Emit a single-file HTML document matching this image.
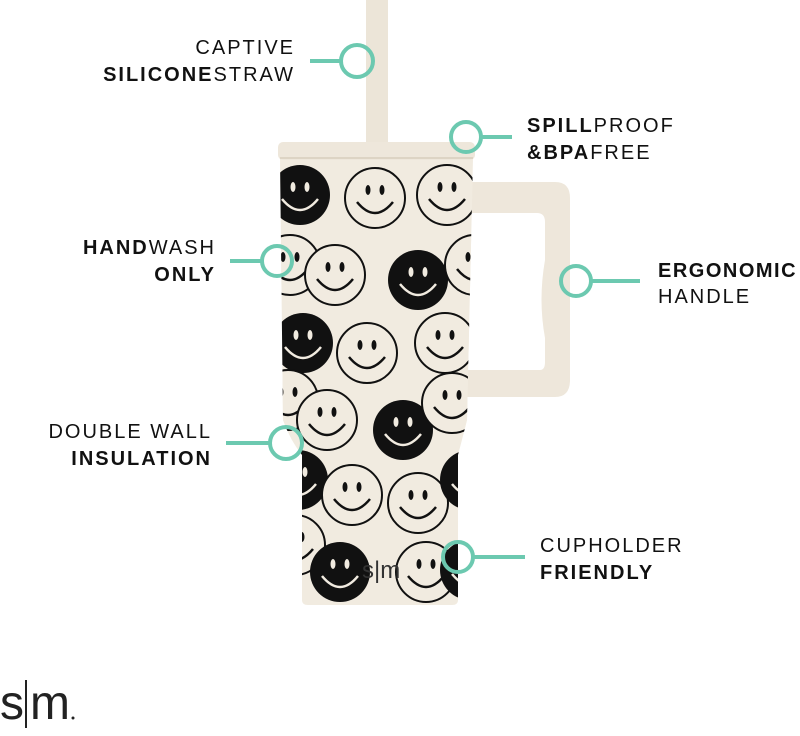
<!DOCTYPE html>
<html><head><style>
body{margin:0;width:800px;height:731px;background:#fff;overflow:hidden;font-family:"Liberation Sans",sans-serif;}
svg text{font-family:"Liberation Sans",sans-serif;font-size:20px;letter-spacing:2px;fill:#111;}
.b{font-weight:bold;}
</style></head><body>
<svg width="800" height="731" viewBox="0 0 800 731">
<defs>
<g id="sw"><circle r="30" fill="#f1ebe0" stroke="#111" stroke-width="2"/><ellipse cx="-7" cy="-8" rx="2.5" ry="5" fill="#111"/><ellipse cx="7" cy="-8" rx="2.5" ry="5" fill="#111"/><path d="M-18 4 Q0 26 18 4" fill="none" stroke="#111" stroke-width="2.5"/></g>
<g id="sb"><circle r="30" fill="#111"/><ellipse cx="-7" cy="-8" rx="2.5" ry="5" fill="#f1ebe0"/><ellipse cx="7" cy="-8" rx="2.5" ry="5" fill="#f1ebe0"/><path d="M-18 4 Q0 26 18 4" fill="none" stroke="#f1ebe0" stroke-width="2.5"/></g>
<clipPath id="body"><path d="M280 158 L473 158 L467 420 Q462 440 458 455 L458 600 Q458 605 452 605 L308 605 Q302 605 302 600 L302 455 Q290 440 283 420 Z"/></clipPath>
</defs>
<rect x="366" y="0" width="22" height="145" fill="#ece5d8"/>
<path d="M465 182 L555 182 Q570 182 570 198 L570 380 Q570 397 555 397 L465 397 L465 370 L540 370 Q545 370 545 362 L545 338 Q538 300 545 260 L545 222 Q545 213 537 213 L465 213 Z" fill="#eee7db"/>
<path d="M280 158 L473 158 L467 420 Q462 440 458 455 L458 600 Q458 605 452 605 L308 605 Q302 605 302 600 L302 455 Q290 440 283 420 Z" fill="#f1ebe0"/>
<g clip-path="url(#body)">
<use href="#sb" x="300" y="195"/><use href="#sw" x="375" y="198"/><use href="#sw" x="447" y="195"/>
<use href="#sw" x="290" y="265"/><use href="#sw" x="335" y="275"/><use href="#sb" x="418" y="280"/><use href="#sw" x="475" y="265"/>
<use href="#sb" x="303" y="343"/><use href="#sw" x="367" y="353"/><use href="#sw" x="445" y="343"/>
<use href="#sw" x="288" y="400"/><use href="#sw" x="327" y="420"/><use href="#sb" x="403" y="430"/><use href="#sw" x="452" y="403"/>
<use href="#sb" x="298" y="480"/><use href="#sw" x="352" y="495"/><use href="#sw" x="418" y="503"/><use href="#sb" x="470" y="480"/>
<use href="#sw" x="295" y="545"/><use href="#sb" x="340" y="572"/><use href="#sw" x="426" y="572"/><use href="#sb" x="470" y="570"/>
</g>
<text x="362" y="578" style="font-size:24px;letter-spacing:0;fill:#333">s|m</text>
<rect x="278" y="142" width="197" height="18" rx="5" fill="#eee7db"/>
<line x1="280" y1="158" x2="473" y2="158" stroke="#ddd4c4" stroke-width="2"/>
<g stroke="#6cc9b0" stroke-width="4" fill="none">
<line x1="310" y1="61" x2="341" y2="61"/><circle cx="357" cy="61" r="16"/>
<line x1="482" y1="137" x2="512" y2="137"/><circle cx="466" cy="137" r="15"/>
<line x1="230" y1="261" x2="262" y2="261"/><circle cx="277" cy="261" r="15"/>
<line x1="591" y1="281" x2="640" y2="281"/><circle cx="576" cy="281" r="15"/>
<line x1="226" y1="443" x2="270" y2="443"/><circle cx="286" cy="443" r="16"/>
<line x1="473" y1="557" x2="525" y2="557"/><circle cx="458" cy="557" r="15"/>
</g>
<text x="295" y="54" text-anchor="end">CAPTIVE</text>
<text x="295" y="81" text-anchor="end"><tspan class="b">SILICONE</tspan>STRAW</text>
<text x="527" y="132"><tspan class="b">SPILL</tspan>PROOF</text>
<text x="527" y="159"><tspan class="b">&amp;BPA</tspan>FREE</text>
<text x="216" y="254" text-anchor="end"><tspan class="b">HAND</tspan>WASH</text>
<text x="216" y="281" text-anchor="end" class="b">ONLY</text>
<text x="658" y="277" class="b" style="letter-spacing:1.5px">ERGONOMIC</text>
<text x="658" y="303">HANDLE</text>
<text x="212" y="438" text-anchor="end">DOUBLE WALL</text>
<text x="212" y="465" text-anchor="end" class="b">INSULATION</text>
<text x="540" y="552">CUPHOLDER</text>
<text x="540" y="579" class="b">FRIENDLY</text>
<text x="0" y="719" style="font-size:48px;letter-spacing:0;fill:#222">s</text>
<rect x="25" y="680" width="2" height="48" fill="#222"/>
<text x="30" y="719" style="font-size:48px;letter-spacing:0;fill:#222">m</text>
<circle cx="73" cy="718" r="1.5" fill="#222"/>
</svg>
</body></html>
